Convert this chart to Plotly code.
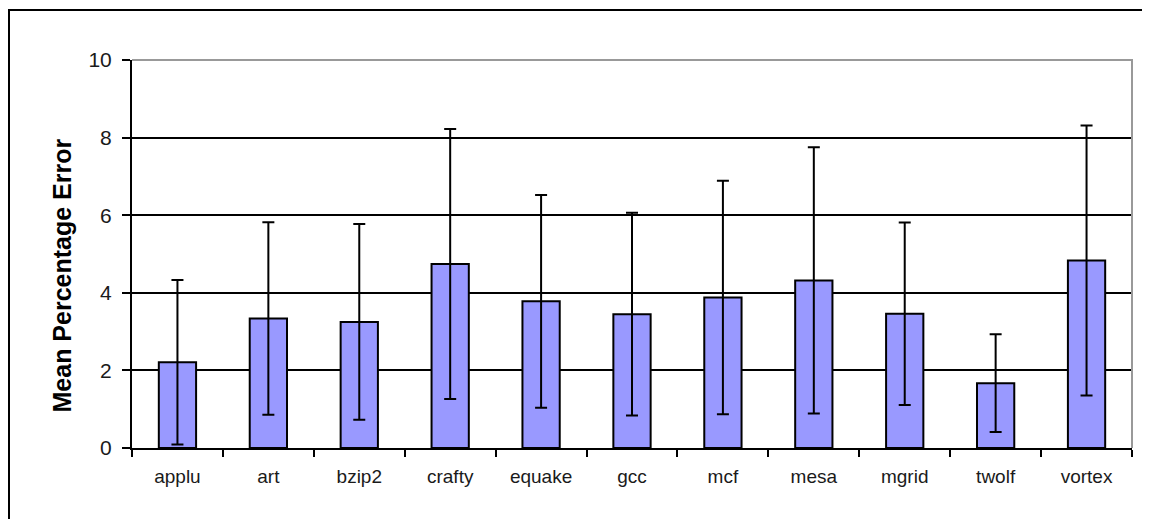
import plotly.graph_objects as go

benchmarks = ["applu", "art", "bzip2", "crafty", "equake", "gcc", "mcf", "mesa", "mgrid", "twolf", "vortex"]
mean_error = [2.21, 3.34, 3.25, 4.74, 3.78, 3.45, 3.88, 4.32, 3.46, 1.67, 4.83]
std_error = [2.12, 2.48, 2.52, 3.48, 2.74, 2.61, 3.01, 3.43, 2.35, 1.26, 3.48]
y_ticks = [0, 2, 4, 6, 8, 10]

# page body has an 8px margin; figure coordinates are screen minus 8
W, H = 1142, 511
L, R, T, B = 124, 18, 52, 71
pw, ph = W - L - R, H - T - B

def px(x):
    return (x - 8 - L) / pw

def py(y):
    return 1 - (y - 8 - T) / ph

fig = go.Figure()
fig.add_trace(go.Bar(
    x=benchmarks, y=mean_error,
    marker=dict(color="#9999FF", line=dict(color="black", width=2)),
    error_y=dict(type="data", array=std_error, visible=True, color="black", thickness=2, width=6),
    width=0.41,
))

fig.update_layout(
    width=W, height=H,
    margin=dict(l=L, r=R, t=T, b=B),
    paper_bgcolor="white", plot_bgcolor="white",
    showlegend=False,
    font=dict(family="Arial, Liberation Sans, sans-serif", size=19, color="#1a1a1a"),
    xaxis=dict(
        type="category", tickson="boundaries", ticks="outside", ticklen=7, tickcolor="black",
        tickwidth=2,
        showline=True, linecolor="black", linewidth=2, showgrid=False,
        tickfont=dict(size=19, color="#1a1a1a"),
        ticklabelstandoff=10,
    ),
    yaxis=dict(
        range=[0, 10], tickvals=y_ticks, ticks="outside", ticklen=8, tickcolor="black", tickwidth=2,
        showline=True, linecolor="black", linewidth=2,
        showgrid=True, gridcolor="black", gridwidth=1.5,
        tickfont=dict(size=21, color="#1a1a1a"),
        ticklabelstandoff=6,
    ),
    annotations=[
        dict(text="<b>Mean Percentage Error</b>", xref="paper", yref="paper",
             x=px(61.5), y=py(276), textangle=-90, showarrow=False,
             xanchor="center", yanchor="middle",
             font=dict(size=25, color="black")),
    ],
    shapes=[
        dict(type="path", xref="paper", yref="paper",
             path="M 0,1 L 1,1 L 1,0", line=dict(color="#999999", width=2)),
        dict(type="rect", xref="paper", yref="paper",
             x0=px(9), x1=px(1170), y0=py(540), y1=py(10),
             line=dict(color="black", width=2), fillcolor="rgba(0,0,0,0)"),
    ],
)

fig.write_html("out.html")
